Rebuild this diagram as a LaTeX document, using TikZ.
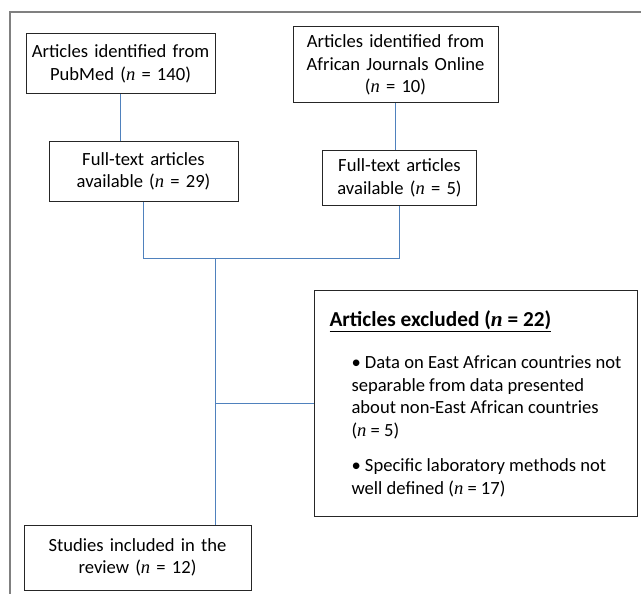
\documentclass[tikz,border=0pt]{standalone}
\usepackage{fontspec}
\setmainfont{Carlito}
\newfontfamily\nfont{Liberation Serif}
\usepackage{tikz}
\usetikzlibrary{arrows,positioning,calc}
\definecolor{linkblue}{RGB}{79,129,189}
\definecolor{framegray}{RGB}{128,128,128}
\tikzstyle{stagebox}=[draw=black!85, line width=1pt, text centered, align=center,
inner xsep=4pt, inner ysep=2pt, font=\fontsize{18.6}{22.5}\selectfont]
\tikzstyle{excluded} = [stagebox, align=left, inner xsep=15pt,
minimum width=323pt, minimum height=226pt]
\tikzstyle{line} = [draw, line width=1pt, color=linkblue]
\tikzstyle{frame} = [draw, line width=1.6pt, color=framegray]
\newcommand{\nn}{{\nfont\itshape n}}
\newcommand{\stagebox}[4]{node (p#1)[stagebox, text width=#2-8pt, minimum width=#2, minimum height=#3]{#4}}
\newcommand{\excluded}[2]{node (p#1)[excluded]{#2}}

\begin{document}
\begin{tikzpicture}[x=1pt,y=-1pt]
		\useasboundingbox (0,0) rectangle (641,594);
		
		% Draw the page frame
		\path [frame] (641,12) -| (10,594);
		
		% Draw diagram elements
		\path (120.5,64) \stagebox{1}{189pt}{60pt}{Articles identified from\\PubMed (\nn{} = 140)};
		\path (395.5,65) \stagebox{3}{205pt}{76pt}{Articles identified from\\African Journals Online\\(\nn{} = 10)};
		\path (p1.south)+(23,77) \stagebox{2}{189pt}{60pt}{Full-text articles\\available (\nn{} = 29)};
		\path (p3.south)+(4,74.5) \stagebox{4}{154pt}{55pt}{Full-text articles\\available (\nn{} = 5)};
		\path (p2.south)+(72,56.5) coordinate (j);
		\path (j)+(260,145) \excluded{5}{{\fontsize{21.3}{24}\selectfont\bfseries\underline{Articles excluded (\nn{} = 22)}}\\[20pt]
			\hspace*{22pt}\textbullet{} Data on East African countries not\\
			\hspace*{22pt}separable from data presented\\
			\hspace*{22pt}about non-East African countries\\
			\hspace*{22pt}(\nn{} = 5)\\[13pt]
			\hspace*{22pt}\textbullet{} Specific laboratory methods not\\
			\hspace*{22pt}well defined (\nn{} = 17)};
		\path (j)+(-78,299) \stagebox{6}{227pt}{65pt}{Studies included in the\\review (\nn{} = 12)};
		
		% Draw lines between elements
		\path [line] (p1.south) -- (p1.south |- p2.north);
		\path [line] (p3.south) -- (p3.south |- p4.north);
		\path [line] (p2.south) |- (j) -| (p4.south);
		\path [line] (j) -- (j |- p6.north);
		\path [line] (j |- p5.west) -- (p5.west);
		
		\end{tikzpicture}
\end{document}
